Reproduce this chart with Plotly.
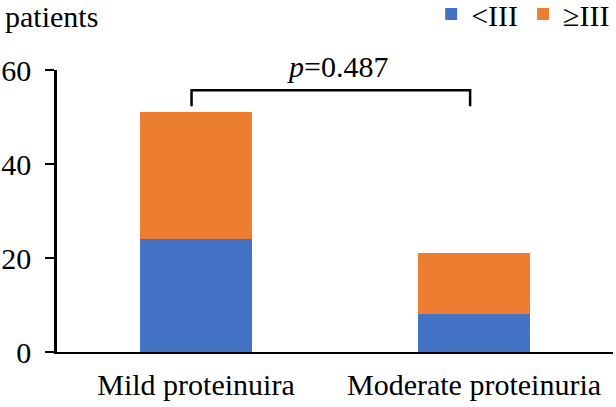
import plotly.graph_objects as go

categories = ["Mild proteinuira", "Moderate proteinuria"]
below_iii = [24, 8]
above_iii = [27, 13]
series_names = ["<III", "\u2265III"]
p_label = "<i>p</i>=0.487"
y_ticks = [0, 20, 40, 60]

FONT = "Liberation Serif, Times New Roman, serif"
FS = 30

fig = go.Figure()
fig.add_trace(go.Bar(x=categories, y=below_iii, name=series_names[0],
                     marker=dict(color="#4472C4", line=dict(width=0))))
fig.add_trace(go.Bar(x=categories, y=above_iii, name=series_names[1],
                     marker=dict(color="#ED7D31", line=dict(width=0))))

# significance bracket
fig.add_shape(type="path", xref="x", yref="y",
              path="M -0.016,52.3 L -0.016,55.7 L 0.986,55.7 L 0.986,52.3",
              line=dict(color="black", width=2.5))
# x-axis line extension to the left under the y ticks
fig.add_shape(type="line", xref="paper", yref="y", x0=-0.017, x1=0, y0=0, y1=0,
              line=dict(color="black", width=2))
fig.add_annotation(x=0.504, y=1.014, xref="paper", yref="paper", text=p_label,
                   showarrow=False, font=dict(size=FS, family=FONT, color="black"),
                   xanchor="center", yanchor="middle")
fig.add_annotation(x=-0.097, y=1.188, xref="paper", yref="paper", text="patients",
                   showarrow=False, font=dict(size=FS, family=FONT, color="black"),
                   xanchor="left", yanchor="middle")

fig.update_layout(
    barmode="stack",
    bargap=0.6,
    width=616, height=407,
    margin=dict(l=57, r=3, t=70, b=55, autoexpand=False),
    plot_bgcolor="white", paper_bgcolor="white",
    font=dict(family=FONT, size=FS, color="black"),
    legend=dict(orientation="h", x=0.673, y=1.199, xanchor="left", yanchor="middle",
                font=dict(size=FS, family=FONT), traceorder="normal",
                itemwidth=30, bgcolor="rgba(0,0,0,0)"),
    xaxis=dict(showline=True, linecolor="black", linewidth=2, ticks="",
               ticklabelstandoff=5,
               showgrid=False, tickfont=dict(size=FS, family=FONT)),
    yaxis=dict(range=[0, 60], tickvals=y_ticks, showline=True, linecolor="black",
               linewidth=2.5, ticks="outside", ticklen=9, tickwidth=2, tickcolor="black",
               ticklabelstandoff=8,
               showgrid=False, zeroline=False, tickfont=dict(size=FS, family=FONT)),
)

fig.write_html("out.html", config={"displayModeBar": False},
               post_script="document.body.style.margin='0';")
